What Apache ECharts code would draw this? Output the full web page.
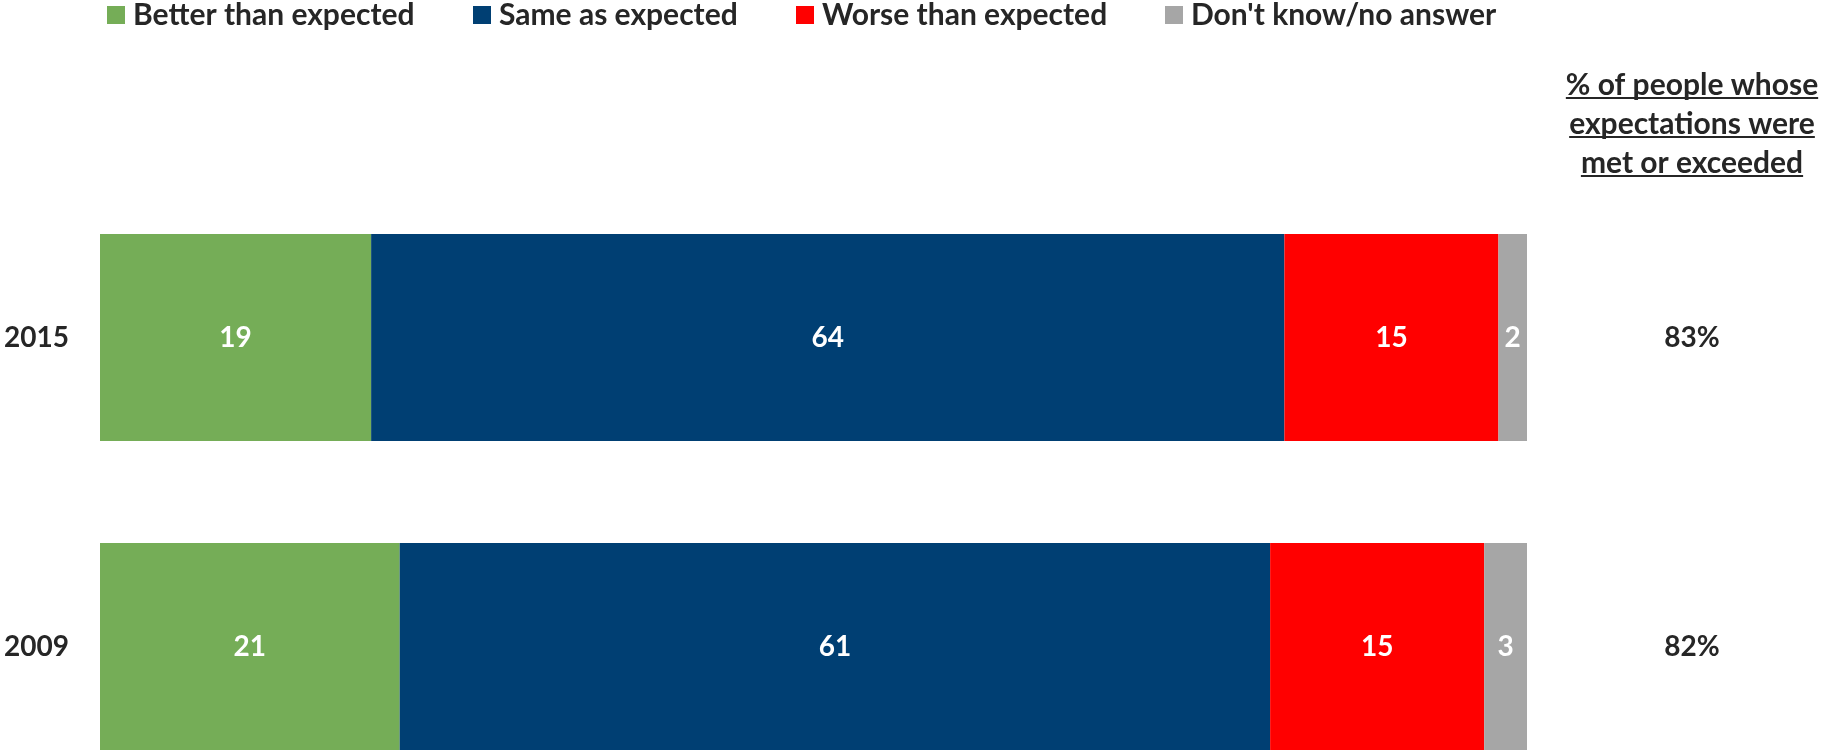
<!DOCTYPE html>
<html>
<head>
<meta charset="utf-8">
<script src="https://cdn.jsdelivr.net/npm/echarts@6/dist/echarts.min.js"></script>
<style>
html,body{margin:0;padding:0;background:#fff;}
#chart{width:1823px;height:752px;}
</style>
</head>
<body>
<div id="chart"></div>
<script>
const years = ['2015', '2009'];
const seriesNames = ['Better than expected', 'Same as expected', 'Worse than expected', "Don't know/no answer"];
const better = [19, 21];
const same = [64, 61];
const worse = [15, 15];
const dontKnow = [2, 3];
const metOrExceeded = [83, 82];
const headerLines = ['% of people whose', 'expectations were', 'met or exceeded'];

const colors = ['#75AD57', '#003F73', '#FF0000', '#A6A6A6'];
const FONT = 'Lato, "Open Sans", sans-serif';
const TEXT = '#262626';
const FS = 28;
const FS_BIG = 30;

const chart = echarts.init(document.getElementById('chart'));
const values = [better, same, worse, dontKnow];

const legendLefts = [107, 473, 796, 1165];
const legends = seriesNames.map((n, i) => ({
  data: [n],
  left: legendLefts[i],
  top: 0,
  padding: 0,
  icon: 'rect',
  itemWidth: 18,
  itemHeight: 18,
  selectedMode: false,
  textStyle: { fontFamily: FONT, fontSize: FS_BIG, fontWeight: 'bold', color: TEXT, padding: [0, 0, 0, 3] }
}));

// header with underlines
const measure = document.createElement('canvas').getContext('2d');
measure.font = 'bold ' + FS_BIG + 'px ' + FONT;
const headerCx = 1692;
const headerY = [85, 124, 163];
const graphics = [];
headerLines.forEach((t, i) => {
  const w = measure.measureText(t).width;
  graphics.push({
    type: 'text',
    x: headerCx, y: headerY[i],
    style: { text: t, fill: TEXT, font: 'bold ' + FS_BIG + 'px ' + FONT, align: 'center', verticalAlign: 'middle' }
  });
  graphics.push({
    type: 'line',
    shape: { x1: headerCx - w / 2, y1: headerY[i] + 13, x2: headerCx + w / 2, y2: headerY[i] + 13 },
    style: { stroke: TEXT, lineWidth: 2 }
  });
});

const option = {
  animation: false,
  backgroundColor: '#fff',
  legend: legends,
  graphic: graphics,
  grid: { left: 100, right: 296, top: 183, height: 618, containLabel: false, outerBoundsMode: 'none' },
  xAxis: { type: 'value', min: 0, max: 100, show: false },
  yAxis: [
    {
      type: 'category', data: years, inverse: true,
      axisLine: { show: false }, axisTick: { show: false },
      axisLabel: { fontFamily: FONT, fontSize: FS, fontWeight: 'bold', color: TEXT, margin: 31 }
    },
    {
      type: 'category', data: years, inverse: true, position: 'right',
      axisLine: { show: false }, axisTick: { show: false },
      axisLabel: {
        fontFamily: FONT, fontSize: FS, fontWeight: 'bold', color: TEXT, margin: 165, align: 'center',
        formatter: (v, idx) => metOrExceeded[idx] + '%'
      }
    }
  ],
  series: seriesNames.map((n, i) => ({
    name: n, type: 'bar', stack: 'total', yAxisIndex: 0,
    barWidth: 207,
    itemStyle: { color: colors[i] },
    label: { show: true, position: 'inside', color: '#fff', fontFamily: FONT, fontSize: FS, fontWeight: 'bold' },
    data: values[i]
  }))
};
chart.setOption(option);
</script>
</body>
</html>
